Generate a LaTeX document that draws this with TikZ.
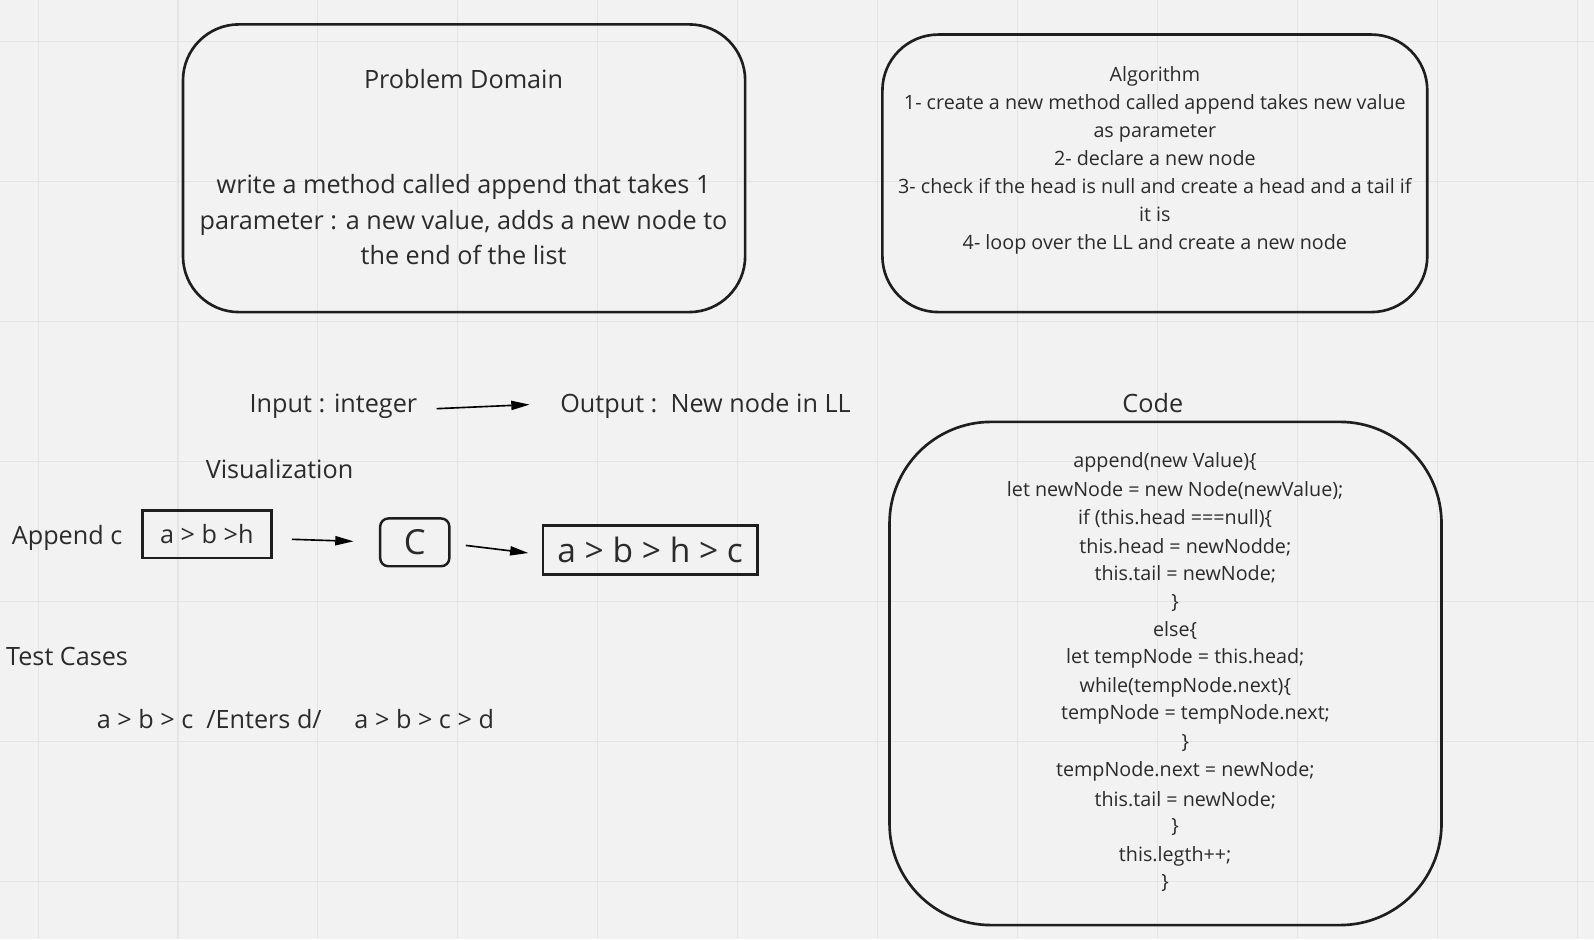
\documentclass[tikz,border=0pt]{standalone}
\usepackage{fontspec}
\setmainfont{Open Sans}
\usetikzlibrary{arrows.meta}
\definecolor{bg}{HTML}{F2F2F2}
\definecolor{gridc}{HTML}{E4E4E4}
\definecolor{ink}{HTML}{1E1E1E}
\definecolor{txt}{HTML}{2B2B2B}
\tikzset{
  bigbox/.style={draw=ink, line width=2.6pt, rounded corners=55pt},
  rectbox/.style={draw=ink, line width=2.4pt},
  lbl/.style={inner sep=0pt, text=txt},
  fxxiv/.style={font=\fontsize{24.8}{34.5}\selectfont},
  fxx/.style={font=\fontsize{19.4}{27.6}\selectfont},
  arr/.style={draw=black, line width=1.6pt, -{Triangle[length=18pt,width=9pt]}},
}
\begin{document}
\begin{tikzpicture}[x=1pt,y=-1pt]
\fill[bg] (0,0) rectangle (1568,923.7);
\useasboundingbox (0,0) rectangle (1568,923.7);
% grid
\foreach \gx in {37.4,175.1,...,1568} \draw[gridc, line width=1pt] (\gx,0) -- (\gx,923.7);
\foreach \gy in {41.3,179,...,923.7} \draw[gridc, line width=1pt] (0,\gy) -- (1568,\gy);

% Problem domain box
\draw[bigbox] (180,24) rectangle (733,307);
\node[lbl, fxxiv] (pdt) at (456,78) {Problem Domain};
\node[lbl, fxxiv, align=center] (pdb) at (456,216) {write a method called append that takes 1\\parameter : a new value, adds a new node to\\the end of the list};

% Algorithm box
\draw[bigbox] (868,34) rectangle (1404,307);
\node[lbl, fxx, align=center] (alg) at (1136,157.5) {Algorithm\\1- create a new method called append takes new value\\as parameter\\2- declare a new node\\3- check if the head is null and create a head and a tail if\\it is\\4- loop over the LL and create a new node};

% Input / Output
\node[lbl, fxxiv] (inp) at (328,400) {Input : integer};
\node[lbl, fxxiv] (outp) at (694,399) {Output :\ \ New node in LL};
\draw[arr] ([xshift=19pt,yshift=-2pt]inp.east) -- ([xshift=-30pt,yshift=1pt]outp.west);

\node[lbl, fxxiv] (code) at (1134,396) {Code};
\node[lbl, fxxiv] (vis) at (275,461) {Visualization};

% Visualization row
\node[lbl, fxxiv] (app) at (66,529) {Append c};
\node[rectbox, minimum width=127pt, minimum height=47pt, inner sep=0pt, text=txt, fxxiv] (b1) at (203.5,525.5) {a > b >h};
\node[draw=ink, line width=2.4pt, rounded corners=8pt, minimum width=68pt, minimum height=47pt, inner sep=0pt, text=txt, font=\fontsize{34}{40}\selectfont] (bc) at (408,533.5) {C};
\node[rectbox, minimum width=211pt, minimum height=48pt, inner sep=0pt, text=txt, font=\fontsize{33}{40}\selectfont] (b3) at (639.5,541) {a > b > h > c};
\draw[arr] ([xshift=19pt,yshift=-5pt]b1.east) -- ([xshift=-25pt,yshift=1pt]bc.west);
\draw[arr] ([xshift=15pt,yshift=-3pt]bc.east) -- ([xshift=-13pt,yshift=-3pt]b3.west);

% Test cases
\node[lbl, fxxiv] (tc) at (66,646) {Test Cases};
\node[lbl, fxxiv, anchor=west] (tcl) at (95,707) {a > b > c\ \ /Enters d/\ \ \ \ \ a > b > c > d};

% Code box
\draw[bigbox, rounded corners=100pt] (875,415) rectangle (1418,910);
\begin{scope}[every node/.style={lbl, fxx}]
\node (c1) at (1146,455) {append(new Value)\{};
\node (c2) at (1156,483) {let newNode = new Node(newValue);};
\node (c3) at (1156,510) {if (this.head ===null)\{};
\node (c4) at (1166,538) {this.head = newNodde;};
\node (c5) at (1166,565) {this.tail = newNode;};
\node (c6) at (1156,593) {\}};
\node (c7) at (1156,620) {else\{};
\node (c8) at (1166,648) {let tempNode = this.head;};
\node (c9) at (1166,676) {while(tempNode.next)\{};
\node (c10) at (1176,703) {tempNode = tempNode.next;};
\node (c11) at (1166,731) {\}};
\node (c12) at (1166,759) {tempNode.next = newNode;};
\node (c13) at (1166,787) {this.tail = newNode;};
\node (c14) at (1156,814) {\}};
\node (c15) at (1156,842) {this.legth++;};
\node (c16) at (1146,869) {\}};
\end{scope}
\end{tikzpicture}
\end{document}
